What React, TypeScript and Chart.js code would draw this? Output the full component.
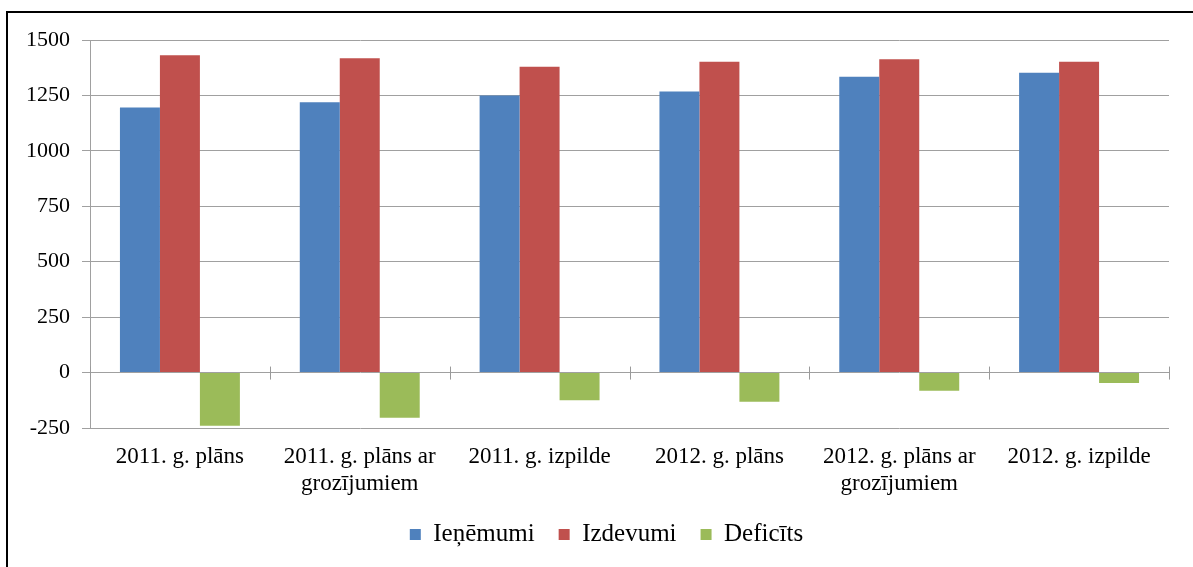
import React, { useEffect, useRef } from "react";
import { Chart, registerables } from "chart.js";

Chart.register(...registerables);

const categories: (string | string[])[] = [
  "2011. g. plāns",
  ["2011. g. plāns ar", "grozījumiem"],
  "2011. g. izpilde",
  "2012. g. plāns",
  ["2012. g. plāns ar", "grozījumiem"],
  "2012. g. izpilde",
];
const ienemumi = [1196, 1219, 1250, 1268, 1334, 1352];
const izdevumi = [1431, 1418, 1379, 1402, 1413, 1402];
const deficits = [-240, -204, -125, -132, -82, -47];
const seriesNames = ["Ieņēmumi", "Izdevumi", "Deficīts"];
const seriesColors = ["#4F81BD", "#C0504D", "#9BBB59"];
const yMin = -250;
const yMax = 1500;
const yStep = 250;

const FONT = "'Liberation Serif', 'Times New Roman', serif";

const zeroTicks = {
  id: "zeroTicks",
  afterDatasetsDraw(chart: any) {
    const x = chart.scales.x;
    const y = chart.scales.y;
    const ctx = chart.ctx;
    const y0 = y.getPixelForValue(0);
    const n = chart.data.labels.length;
    const half = (x.getPixelForValue(1) - x.getPixelForValue(0)) / 2;
    ctx.save();
    ctx.strokeStyle = "#9a9a9a";
    ctx.lineWidth = 1;
    for (let i = 0; i <= n; i++) {
      const px = Math.round(x.getPixelForValue(i) - half) + 0.5;
      ctx.beginPath();
      ctx.moveTo(px, y0 - 6);
      ctx.lineTo(px, y0 + 7);
      ctx.stroke();
    }
    ctx.restore();
  },
};

const legendShift = {
  id: "legendShift",
  afterLayout(chart: any) {
    if (chart.legend) chart.legend.left += 44;
  },
};

export default function App() {
  const ref = useRef<HTMLCanvasElement | null>(null);
  useEffect(() => {
    if (!ref.current) return;
    Chart.defaults.font.family = FONT;
    const chart = new Chart(ref.current, {
      type: "bar",
      data: {
        labels: categories as any,
        datasets: [ienemumi, izdevumi, deficits].map((d, i) => ({
          label: seriesNames[i],
          data: d,
          backgroundColor: seriesColors[i],
          borderWidth: 0,
          categoryPercentage: 0.667,
          barPercentage: 1,
        })),
      },
      options: {
        animation: false,
        responsive: false,
        maintainAspectRatio: false,
        layout: { padding: { top: 40, left: 0, right: 24, bottom: 10 } },
        plugins: {
          tooltip: { enabled: false },
          legend: {
            position: "bottom",
            labels: {
              boxWidth: 11,
              boxHeight: 11,
              padding: 24,
              color: "#000",
              font: { size: 25, family: FONT },
            },
          },
        },
        scales: {
          x: {
            grid: { display: false, drawTicks: false },
            border: { display: false },
            ticks: {
              color: "#000",
              padding: 15,
              maxRotation: 0,
              autoSkip: false,
              font: { size: 23, family: FONT, lineHeight: 1.2 },
            },
            afterFit(scale: any) {
              scale.height = 70;
            },
          },
          y: {
            min: yMin,
            max: yMax,
            grid: { color: "#a0a0a0", lineWidth: 1, tickLength: 8 },
            border: { color: "#a0a0a0", width: 1 },
            ticks: {
              stepSize: yStep,
              color: "#000",
              padding: 12,
              font: { size: 22, family: FONT },
              callback: (v: any) => String(v),
            },
            afterFit(scale: any) {
              scale.width = 90;
            },
          },
        },
      },
      plugins: [zeroTicks, legendShift],
    });
    return () => chart.destroy();
  }, []);
  return (
    <div
      style={{
        position: "fixed",
        left: 0,
        top: 0,
        width: 1193,
        height: 567,
        overflow: "hidden",
        background: "#fff",
      }}
    >
      <canvas ref={ref} width={1193} height={567} style={{ position: "absolute", left: 0, top: 0 }} />
      <div
        style={{
          position: "absolute",
          left: 6,
          top: 11,
          width: 1300,
          height: 700,
          border: "2px solid #000",
          boxSizing: "border-box",
          pointerEvents: "none",
        }}
      />
    </div>
  );
}
